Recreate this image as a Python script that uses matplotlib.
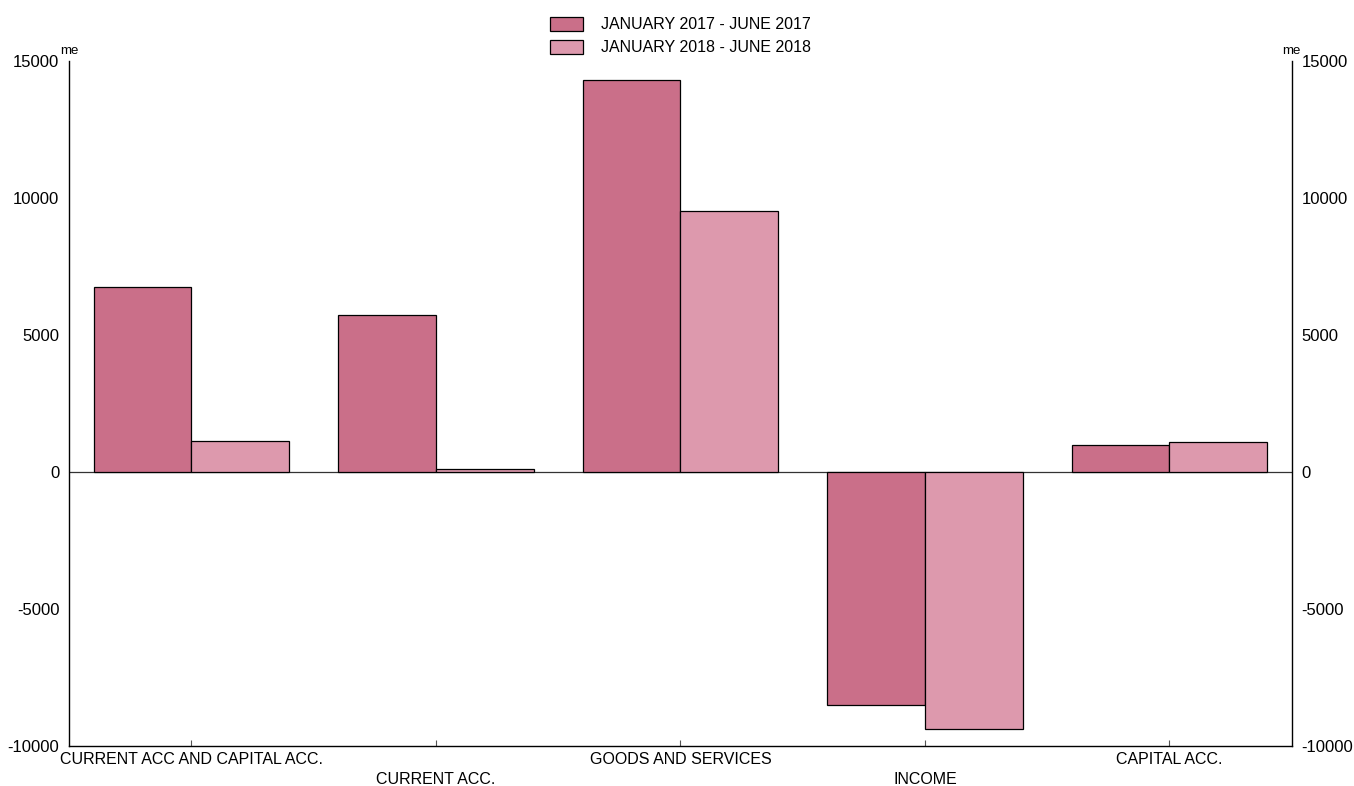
import numpy as np
import matplotlib.pyplot as plt

plt.rcParams['font.family'] = ['Liberation Sans', 'DejaVu Sans']
plt.rcParams['axes.unicode_minus'] = False

categories = ['CURRENT ACC AND CAPITAL ACC.', 'CURRENT ACC.', 'GOODS AND SERVICES',
              'INCOME', 'CAPITAL ACC.']
h1_2017 = [6750, 5730, 14300, -8500, 1000]
h1_2018 = [1130, 100, 9520, -9380, 1080]
series_names = ['JANUARY 2017 - JUNE 2017', 'JANUARY 2018 - JUNE 2018']
colores = ['#CA6F89', '#DD99AD']

fig = plt.figure(figsize=(13.54, 7.86), dpi=100)
ax = fig.add_axes([0.051, 0.0509, 0.903, 0.8715])

x = np.arange(len(categories))
w = 0.4
ax.bar(x - w / 2, h1_2017, w, color=colores[0], edgecolor='black', linewidth=0.9,
       label=series_names[0])
ax.bar(x + w / 2, h1_2018, w, color=colores[1], edgecolor='black', linewidth=0.9,
       label=series_names[1])

ax.axhline(0, color='#333333', linewidth=0.9, zorder=0)
ax.set_xlim(-0.5, len(categories) - 0.5)
ax.set_ylim(-10000, 15000)
ax.set_yticks(np.arange(-10000, 15001, 5000))

# etiquetas alternadas en dos filas
ax.set_xticks(x)
labels = [c if i % 2 == 0 else '\n' + c for i, c in enumerate(categories)]
ax.set_xticklabels(labels, fontsize=11.5, linespacing=1.45)
ax.tick_params(axis='x', direction='in', length=4, pad=4, color='#555555')
ax.tick_params(axis='y', length=0, labelsize=12, pad=7, right=True, labelright=True)

ax.spines['top'].set_visible(False)
for s in ['left', 'right', 'bottom']:
    ax.spines[s].set_linewidth(1.0)

ax.text(0.0, 1.006, 'me', transform=ax.transAxes, fontsize=9.5, ha='center', va='bottom')
ax.text(1.0, 1.006, 'me', transform=ax.transAxes, fontsize=9.5, ha='center', va='bottom')

ax.legend(loc='lower center', bbox_to_anchor=(0.5, 0.999), frameon=False, fontsize=11.5,
          handlelength=2.1, handleheight=1.0, handletextpad=1.1, labelspacing=0.45,
          borderaxespad=0.0)

fig.savefig('out.png', dpi=100)
